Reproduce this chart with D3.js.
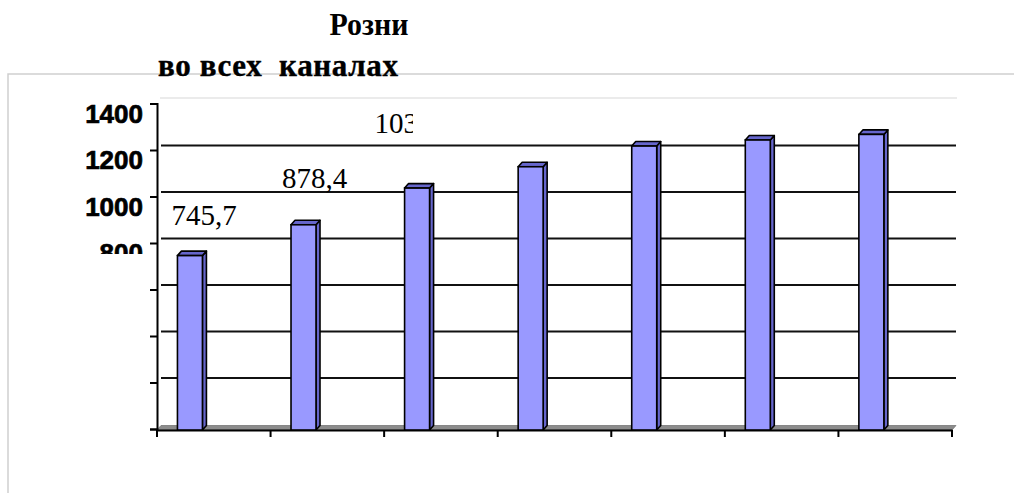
<!DOCTYPE html>
<html><head><meta charset="utf-8">
<script src="https://cdn.jsdelivr.net/npm/d3@7"></script>
<style>html,body{margin:0;padding:0;background:#fff;}svg{display:block;}</style>
</head><body>
<script>
// ---- data ----
const categories = ["1","2","3","4","5","6","7"];
const values = [745.7, 878.4, 1036.2, 1128, 1217, 1243, 1267];
const yTicks = [0, 200, 400, 600, 800, 1000, 1200, 1400];
const yTickLabels = ["", "", "", "", "800", "1000", "1200", "1400"];
const labelTexts = ["745,7", "878,4", "1036,2"];
const titleLines = ["Розни", "во всех  каналах"];

const W = 1014, H = 493;
const svg = d3.select("body").append("svg").attr("width", W).attr("height", H);

const x = d3.scaleBand().domain(categories).range([157, 952]).paddingInner(0).paddingOuter(0);
const y = d3.scaleLinear().domain([0, 1400]).range([429, 103.5]);
const DX = 4, DY = -4.5;

// outer frame (light)
svg.append("path").attr("d", "M8,493 V74 H1014").attr("fill", "none").attr("stroke", "#cfcfcf").attr("stroke-width", 1.5);
// inner plot top
svg.append("line").attr("x1", 160).attr("x2", 957).attr("y1", 98).attr("y2", 98).attr("stroke", "#e4e4e4").attr("stroke-width", 1.5);

// title
svg.append("text").attr("x", 369).attr("y", 35).attr("text-anchor", "middle")
  .attr("font-family", "Liberation Serif").attr("font-weight", "bold").attr("font-size", 31)
  .attr("textLength", 79).attr("lengthAdjust", "spacingAndGlyphs").text(titleLines[0]);
svg.append("text").attr("x", 158).attr("y", 76)
  .style("white-space", "pre")
  .attr("font-family", "Liberation Serif").attr("font-weight", "bold").attr("font-size", 31)
  .attr("stroke", "#000").attr("stroke-width", 0.4)
  .attr("textLength", 240).attr("lengthAdjust", "spacing").text(titleLines[1]);

// gridlines (back wall)
svg.append("g").selectAll("line").data(yTicks.filter(d => d > 0 && d < 1400)).join("line")
  .attr("x1", x.range()[0] + DX).attr("x2", x.range()[1] + DX)
  .attr("y1", d => y(d) + DY).attr("y2", d => y(d) + DY)
  .attr("stroke", "#111").attr("stroke-width", 1.8);

// floor
const x0 = x.range()[0], x1 = x.range()[1], yb = y(0) + 1;
svg.append("path")
  .attr("d", `M${x0},${yb} L${x1},${yb} L${x1 + DX},${yb + DY} L${x0 + DX},${yb + DY} Z`)
  .attr("fill", "#8c8c8c").attr("stroke", "#777").attr("stroke-width", 0.8);

// left axis
const yAxis = d3.axisLeft(y).tickValues(yTicks).tickSize(7).tickFormat("");
const yg = svg.append("g").attr("transform", `translate(${x0},0)`).call(yAxis);
yg.select(".domain").attr("stroke", "#000").attr("stroke-width", 2);
yg.selectAll(".tick line").attr("stroke", "#000").attr("stroke-width", 2);

// y tick labels (clipped below, as in the original)
svg.append("clipPath").attr("id", "ylabclip").append("rect").attr("x", 0).attr("y", 90).attr("width", 160).attr("height", 164);
svg.append("g").attr("clip-path", "url(#ylabclip)").selectAll("text").data(yTicks).join("text")
  .attr("x", x0 - 14).attr("y", d => y(d) + 19)
  .attr("text-anchor", "end")
  .attr("font-family", "Liberation Sans").attr("font-weight", "bold").attr("font-size", 26)
  .attr("fill", "#000").attr("stroke", "#000").attr("stroke-width", 0.7)
  .text((d, i) => yTickLabels[i]);

// bottom axis
const xAxis = d3.axisBottom(x).tickValues([]).tickSizeOuter(0);
const xg = svg.append("g").attr("transform", `translate(0,${yb})`).call(xAxis);
xg.select(".domain").attr("stroke", "#000").attr("stroke-width", 2);
const bounds = categories.map(c => x(c)).concat([x1]);
xg.selectAll("line.b").data(bounds).join("line").attr("class", "b")
  .attr("x1", d => d).attr("x2", d => d).attr("y1", 0).attr("y2", 7)
  .attr("stroke", "#000").attr("stroke-width", 2);

// bars
const bw = x.bandwidth() * 0.22, boff = x.bandwidth() * 0.18;
const bars = svg.append("g").selectAll("g").data(values).join("g");
bars.each(function (v, i) {
  const g = d3.select(this);
  const bx = x(categories[i]) + boff, top = y(v), bot = yb;
  g.append("path").attr("d", `M${bx + bw},${top} L${bx + bw + DX},${top + DY} L${bx + bw + DX},${bot + DY} L${bx + bw},${bot} Z`)
    .attr("fill", "#6666cc").attr("stroke", "#000").attr("stroke-width", 1.6).attr("stroke-linejoin", "round");
  g.append("path").attr("d", `M${bx},${top} L${bx + DX},${top + DY} L${bx + bw + DX},${top + DY} L${bx + bw},${top} Z`)
    .attr("fill", "#6666cc").attr("stroke", "#000").attr("stroke-width", 1.6).attr("stroke-linejoin", "round");
  g.append("rect").attr("x", bx).attr("y", top).attr("width", bw).attr("height", bot - top)
    .attr("fill", "#9999ff").attr("stroke", "#000").attr("stroke-width", 1.6);
});

// data labels (first three, as in the original)
const labelDx = [-6, -9, -30];
const labelDy = [-31, -37, -55];
svg.append("clipPath").attr("id", "lab3clip").append("rect").attr("x", 0).attr("y", 0).attr("width", 413).attr("height", H);
svg.append("g").selectAll("text").data(labelTexts).join("text")
  .attr("x", (d, i) => x(categories[i]) + boff + labelDx[i])
  .attr("y", (d, i) => y(values[i]) + labelDy[i])
  .attr("clip-path", (d, i) => i === 2 ? "url(#lab3clip)" : null)
  .attr("font-family", "Liberation Serif").attr("font-size", 29).attr("fill", "#000")
  .text(d => d);
</script>
</body></html>
